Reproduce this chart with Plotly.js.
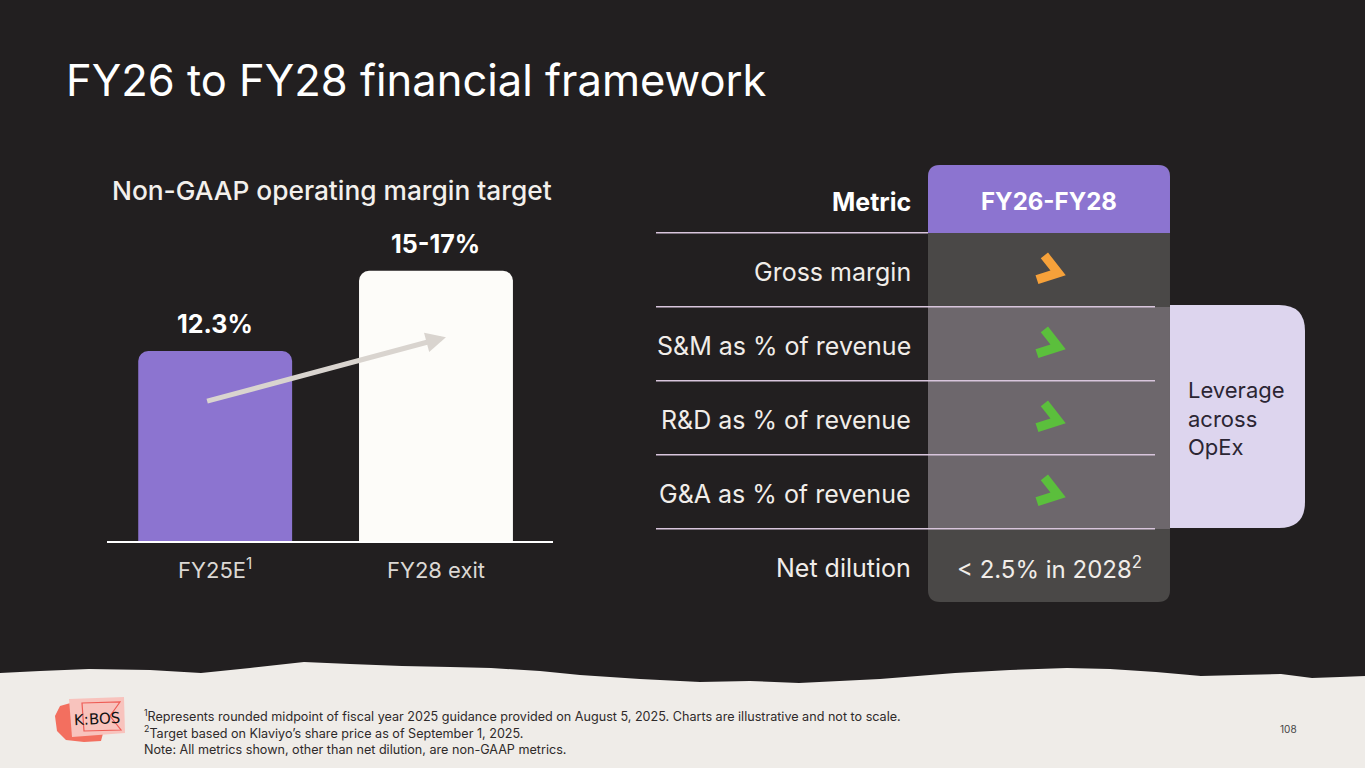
<!DOCTYPE html>
<html>
<head>
<meta charset="utf-8">
<script src="https://cdn.plot.ly/plotly-3.0.1.min.js"></script>
<style>html,body{margin:0;padding:0;background:#221f20;overflow:hidden}</style>
</head>
<body>
<div id="chart" style="width:1365px;height:768px"></div>
<script>
// ---------- data ----------
const barCategories = ['FY25E', 'FY28 exit'];
const barTickLabels = ['FY25E<sup>1</sup>', 'FY28 exit'];
const barValues = [12.3, 17.5];            // illustrative bar heights
const barLabels = ['12.3%', '15-17%'];
const trendFrom = 9.0;                      // arrow start level (on FY25E)
const trendTo = 13.2;                       // arrow end level (on FY28 exit)

const tableRows = ['Metric', 'Gross margin', 'S&M as % of revenue', 'R&D as % of revenue', 'G&A as % of revenue', 'Net dilution'];
const tableValues = ['FY26-FY28', '', '', '', '', '< 2.5% in 2028<sup>2</sup>'];
const tableTrend = ['', 'improve', 'lower', 'lower', 'lower', ''];
const opexGroupRows = ['S&M as % of revenue', 'R&D as % of revenue', 'G&A as % of revenue'];
const opexGroupLabel = 'Leverage<br>across<br>OpEx';

// ---------- helpers ----------
const W = 1365, H = 768;
const PX = x => x / W;
const PY = y => 1 - y / H;
const P = (x, y) => PX(x).toFixed(5) + ',' + PY(y).toFixed(5);
function roundRect(x0, y0, x1, y1, r) {
  const [tl, tr, br, bl] = r;
  return 'M' + P(x0 + tl, y0) + ' L' + P(x1 - tr, y0) + ' Q' + P(x1, y0) + ' ' + P(x1, y0 + tr) +
    ' L' + P(x1, y1 - br) + ' Q' + P(x1, y1) + ' ' + P(x1 - br, y1) +
    ' L' + P(x0 + bl, y1) + ' Q' + P(x0, y1) + ' ' + P(x0, y1 - bl) +
    ' L' + P(x0, y0 + tl) + ' Q' + P(x0, y0) + ' ' + P(x0 + tl, y0) + ' Z';
}
function poly(pts) {
  return 'M' + pts.map(p => P(p[0], p[1])).join(' L') + ' Z';
}
// chevron icon in pixel units (y up) relative to its anchor, rotated by deg (negative = clockwise)
function chevronPath(deg, dx, dy, k) {
  const base = [[12.5, 0], [-8, -14.3], [-12.6, -7.8], [-1.4, 0], [-12.6, 7.8], [-8, 14.3]];
  const a = deg * Math.PI / 180, c = Math.cos(a), s = Math.sin(a);
  return 'M' + base.map(([x, y]) => ((x * c - y * s) * k + dx).toFixed(2) + ',' + ((x * s + y * c) * k + dy).toFixed(2)).join(' L') + ' Z';
}

const FONT = 'Inter, "Noto Sans", sans-serif';
const BG = '#221f20';
const PURPLE = '#8c74d0';
const trendColor = { improve: '#f6a13a', lower: '#5bbf3c' };

// ---------- traces ----------
const traces = [
  {
    type: 'bar', x: barCategories, y: barValues, xaxis: 'x', yaxis: 'y',
    marker: { color: [PURPLE, '#fdfcf9'], cornerradius: 10, line: { width: 0 } },
    hoverinfo: 'skip'
  },
  {
    type: 'scatter', mode: 'markers', x: tableRows.map(() => 0), y: tableRows,
    xaxis: 'x2', yaxis: 'y2', marker: { opacity: 0 }, hoverinfo: 'skip', showlegend: false
  }
];

// ---------- shapes ----------
const shapes = [];
// torn paper footer
const edge = [[0, 673], [40, 671], [89, 669], [150, 670], [201, 673], [250, 668], [304, 662], [350, 664], [402, 666],
  [450, 667], [491, 668], [540, 671], [580, 675], [640, 679], [700, 682], [750, 681], [799, 683], [880, 679], [955, 673],
  [1010, 670], [1067, 668], [1110, 669], [1156, 672], [1201, 676], [1240, 675], [1281, 674], [1312, 678], [1340, 677], [1365, 676],
  [1365, 768], [0, 768]];
shapes.push({ type: 'path', xref: 'paper', yref: 'paper', path: poly(edge), fillcolor: '#efece8', line: { width: 0 }, layer: 'below' });

// table column
shapes.push({ type: 'path', xref: 'paper', yref: 'paper', path: roundRect(928, 165, 1170, 602, [12, 12, 12, 12]), fillcolor: '#4a4847', line: { width: 0 }, layer: 'below' });
shapes.push({ type: 'path', xref: 'paper', yref: 'paper', path: roundRect(928, 165, 1170, 233, [12, 12, 0, 0]), fillcolor: PURPLE, line: { width: 0 }, layer: 'below' });
// OpEx group band + side box
shapes.push({ type: 'path', xref: 'paper', yref: 'paper', path: roundRect(928, 307, 1170, 529, [0, 0, 0, 0]), fillcolor: '#6d676c', line: { width: 0 }, layer: 'below' });
shapes.push({ type: 'path', xref: 'paper', yref: 'paper', path: roundRect(1170, 305, 1305, 528, [0, 26, 26, 0]), fillcolor: '#ddd5ee', line: { width: 0 }, layer: 'below' });

// row separators
tableRows.slice(0, -1).forEach((r, i) => {
  shapes.push({
    type: 'line', xref: 'paper', yref: 'y2', x0: PX(656), x1: PX(i === 0 ? 928 : 1155),
    y0: i + 0.47, y1: i + 0.47, line: { color: '#d8c5dc', width: 1.5 }
  });
});

// trend chevrons, anchored on the table rows
tableRows.forEach((r, i) => {
  if (!tableTrend[i]) return;
  shapes.push({
    type: 'path', xref: 'paper', yref: 'y2', xsizemode: 'pixel', ysizemode: 'pixel',
    xanchor: PX(1052), yanchor: r, path: chevronPath(-17, 0, 1, 1.15),
    fillcolor: trendColor[tableTrend[i]], line: { width: 0 }
  });
});

// logo sticker
shapes.push({ type: 'path', xref: 'paper', yref: 'paper', path: poly([[60, 706], [74, 702], [90, 706], [104, 704], [106, 722], [101, 741], [84, 742], [66, 740], [57, 731], [55, 716]]), fillcolor: '#f36f5f', line: { width: 0 } });
shapes.push({ type: 'path', xref: 'paper', yref: 'paper', path: poly([[69, 699], [124, 697], [125, 733], [72, 737]]), fillcolor: '#f8c3bd', line: { width: 0 } });
shapes.push({ type: 'path', xref: 'paper', yref: 'paper', path: poly([[82, 703], [120, 702], [110, 716], [121, 730], [84, 731]]), fillcolor: 'rgba(0,0,0,0)', line: { color: '#ee5c55', width: 1.2 } });

// ---------- annotations ----------
const ann = [];
ann.push({ xref: 'paper', yref: 'paper', x: PX(64), y: PY(80), xanchor: 'left', yanchor: 'middle', showarrow: false,
  text: 'FY26 to FY28 financial framework', font: { family: FONT, size: 43.5, color: '#ffffff' } });
ann.push({ xref: 'paper', yref: 'paper', x: PX(332), y: PY(191), xanchor: 'center', yanchor: 'middle', showarrow: false,
  text: 'Non-GAAP operating margin target', font: { family: FONT, size: 26.3, weight: 500, color: '#f3f0ec' } });

// bar value labels
barCategories.forEach((c, i) => {
  ann.push({ xref: 'x', yref: 'y', x: c, y: barValues[i], yanchor: 'bottom', yshift: 10, showarrow: false,
    text: '<b>' + barLabels[i] + '</b>', font: { family: FONT, size: 25, color: '#ffffff' } });
});
// trend arrow
ann.push({ xref: 'x', yref: 'y', axref: 'x', ayref: 'y', x: 1.045, y: trendTo, ax: -0.05, ay: trendFrom,
  text: ' ', showarrow: true, arrowhead: 2, arrowsize: 0.8, arrowwidth: 5, arrowcolor: '#d9d4cf', standoff: 0 });

// table labels and values
tableRows.forEach((r, i) => {
  ann.push({ xref: 'paper', yref: 'y2', x: PX(913), y: r, xanchor: 'right', yanchor: 'middle', showarrow: false,
    yshift: i === 0 ? -4 : 0,
    text: i === 0 ? '<b>' + r + '</b>' : r, font: { family: FONT, size: 25, color: i === 0 ? '#ffffff' : '#f1ede9' } });
  if (tableValues[i]) {
    ann.push({ xref: 'paper', yref: 'y2', x: PX(1049), y: r, xanchor: 'center', yanchor: 'middle', showarrow: false,
      yshift: i === 0 ? -4 : 0,
      text: i === 0 ? '<b>' + tableValues[i] + '</b>' : tableValues[i], font: { family: FONT, size: 24, color: i === 0 ? '#ffffff' : '#f1ede9' } });
  }
});
// OpEx group label
const gMid = (tableRows.indexOf(opexGroupRows[0]) + tableRows.indexOf(opexGroupRows[opexGroupRows.length - 1])) / 2;
ann.push({ xref: 'paper', yref: 'y2', x: PX(1186), y: gMid, yshift: 2, xanchor: 'left', yanchor: 'middle', align: 'left', showarrow: false,
  text: opexGroupLabel, font: { family: FONT, size: 22, color: '#2b2533' } });

// footer
ann.push({ xref: 'paper', yref: 'paper', x: PX(142), y: PY(732), xanchor: 'left', yanchor: 'middle', align: 'left', showarrow: false,
  text: '<sup>1</sup>Represents rounded midpoint of fiscal year 2025 guidance provided on August 5, 2025. Charts are illustrative and not to scale.<br>' +
    '<sup>2</sup>Target based on Klaviyo’s share price as of September 1, 2025.<br>' +
    'Note: All metrics shown, other than net dilution, are non-GAAP metrics.',
  font: { family: FONT, size: 12.6, color: '#2e2a2a' } });
ann.push({ xref: 'paper', yref: 'paper', x: PX(1288), y: PY(729), xanchor: 'center', yanchor: 'middle', showarrow: false,
  text: '108', font: { family: FONT, size: 10, color: '#444' } });
ann.push({ xref: 'paper', yref: 'paper', x: PX(97), y: PY(719), xanchor: 'center', yanchor: 'middle', showarrow: false,
  textangle: -3, text: 'K:BOS', font: { family: '"DejaVu Sans"', size: 15, color: '#111' } });

// ---------- layout ----------
const layout = {
  width: W, height: H,
  margin: { l: 0, r: 0, t: 0, b: 0, pad: 0 },
  paper_bgcolor: BG, plot_bgcolor: 'rgba(0,0,0,0)',
  showlegend: false,
  bargap: 0.303,
  xaxis: {
    domain: [107 / W, 553 / W], type: 'category', categoryarray: barCategories,
    tickvals: barCategories, ticktext: barTickLabels, range: [-0.49, 1.53],
    showline: true, linecolor: '#ffffff', linewidth: 2, ticks: '', showgrid: false, zeroline: false,
    tickfont: { family: FONT, size: 22, color: '#dcd8d4' }, ticklabelstandoff: 9, fixedrange: true
  },
  yaxis: {
    domain: [PY(541), PY(232.1)], range: [0, 20], visible: false, fixedrange: true
  },
  xaxis2: { domain: [0.6, 0.9], range: [0, 1], visible: false, anchor: 'y2', fixedrange: true },
  yaxis2: {
    domain: [PY(605), PY(161)], type: 'category', categoryarray: tableRows, range: [5.5, -0.5],
    visible: false, anchor: 'x2', fixedrange: true
  },
  shapes: shapes,
  annotations: ann
};

Plotly.newPlot('chart', traces, layout, { displayModeBar: false, staticPlot: true });
</script>
</body>
</html>
